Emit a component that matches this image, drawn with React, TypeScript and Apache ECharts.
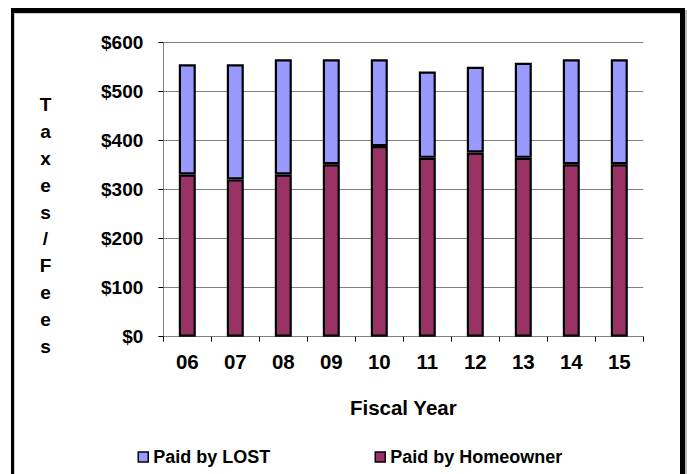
import React, { useEffect, useRef } from "react";
import * as echarts from "echarts";

const years = ["06", "07", "08", "09", "10", "11", "12", "13", "14", "15"];
const paidByHomeowner = [331, 321, 331, 352, 389, 365, 376, 365, 352, 352];
const paidByLost = [225, 235, 235, 214, 177, 176, 175, 194, 214, 214];
const yTicks = [0, 100, 200, 300, 400, 500, 600];
const yAxisTitleLetters = ["T", "a", "x", "e", "s", "/", "F", "e", "e", "s"];

const FONT = "'Liberation Sans', Arial, sans-serif";

export default function App() {
  const ref = useRef<HTMLDivElement>(null);
  useEffect(() => {
    if (!ref.current) return;
    const chart = echarts.init(ref.current, undefined, { renderer: "svg" });
    const yMax = yTicks[yTicks.length - 1];
    const yStep = yTicks[1] - yTicks[0];
    const legendText = { fontFamily: FONT, fontWeight: "bold", fontSize: 18, color: "#000" };
    chart.setOption({
      animation: false,
      backgroundColor: "#ffffff",
      textStyle: { fontFamily: FONT },
      grid: { left: 163.3, right: 43.7, top: 42.7, bottom: 137.3, containLabel: false },
      legend: [
        {
          data: ["Paid by LOST"],
          left: 132.5,
          top: 443,
          icon: "rect",
          itemWidth: 10,
          itemHeight: 10,
          itemStyle: { borderColor: "#000", borderWidth: 1.5 },
          textStyle: legendText,
          selectedMode: false,
        },
        {
          data: ["Paid by Homeowner"],
          left: 369.5,
          top: 443,
          icon: "rect",
          itemWidth: 10,
          itemHeight: 10,
          itemStyle: { borderColor: "#000", borderWidth: 1.5 },
          textStyle: legendText,
          selectedMode: false,
        },
      ],
      xAxis: {
        type: "category",
        data: years,
        boundaryGap: true,
        name: "Fiscal Year",
        nameLocation: "middle",
        nameGap: 60,
        nameTextStyle: { fontFamily: FONT, fontWeight: "bold", fontSize: 20.5, color: "#000" },
        axisLine: { show: true, lineStyle: { color: "#808080", width: 1 } },
        axisTick: { show: true, alignWithLabel: false, length: 5, lineStyle: { color: "#000", width: 1 } },
        axisLabel: { fontFamily: FONT, fontWeight: "bold", fontSize: 20.5, color: "#000", margin: 14 },
        splitLine: { show: false },
      },
      yAxis: {
        type: "value",
        min: 0,
        max: yMax,
        interval: yStep,
        axisLine: { show: true, lineStyle: { color: "#808080", width: 1 } },
        axisTick: { show: true, length: 5, lineStyle: { color: "#000", width: 1 } },
        axisLabel: {
          fontFamily: FONT,
          fontWeight: "bold",
          fontSize: 19,
          color: "#000",
          margin: 20,
          formatter: (v: number) => "$" + v,
        },
        splitLine: { show: true, lineStyle: { color: "#808080", width: 1 } },
      },
      series: [
        {
          name: "Paid by Homeowner",
          type: "bar",
          stack: "total",
          data: paidByHomeowner,
          barWidth: 17,
          itemStyle: { color: "#993366", borderColor: "#000", borderWidth: 2.2 },
        },
        {
          name: "Paid by LOST",
          type: "bar",
          stack: "total",
          data: paidByLost,
          barWidth: 17,
          itemStyle: { color: "#9999FF", borderColor: "#000", borderWidth: 2.2 },
        },
      ],
      graphic: [
        { type: "rect", shape: { x: 11, y: 8, width: 3, height: 470 }, style: { fill: "#000" }, silent: true },
        { type: "rect", shape: { x: 11, y: 8, width: 674, height: 5 }, style: { fill: "#000" }, silent: true },
        { type: "rect", shape: { x: 680, y: 8, width: 5, height: 470 }, style: { fill: "#000" }, silent: true },
        { type: "rect", shape: { x: 685, y: 10, width: 2, height: 470 }, style: { fill: "#bbbbbb" }, silent: true },
        { type: "rect", shape: { x: 14, y: 13, width: 1, height: 465 }, style: { fill: "#cccccc" }, silent: true },
        { type: "rect", shape: { x: 14, y: 13, width: 666, height: 1 }, style: { fill: "#cccccc" }, silent: true },
        {
          type: "text",
          x: 45.5,
          y: 225.5,
          style: {
            text: yAxisTitleLetters.join("\n"),
            fontFamily: FONT,
            fontWeight: "bold",
            fontSize: 19,
            lineHeight: 26.8,
            fill: "#000",
            align: "center",
            verticalAlign: "middle",
          },
        },
      ],
    });
    return () => chart.dispose();
  }, []);
  return (
    <div
      ref={ref}
      style={{ position: "absolute", left: 0, top: 0, width: 687, height: 474 }}
    />
  );
}
